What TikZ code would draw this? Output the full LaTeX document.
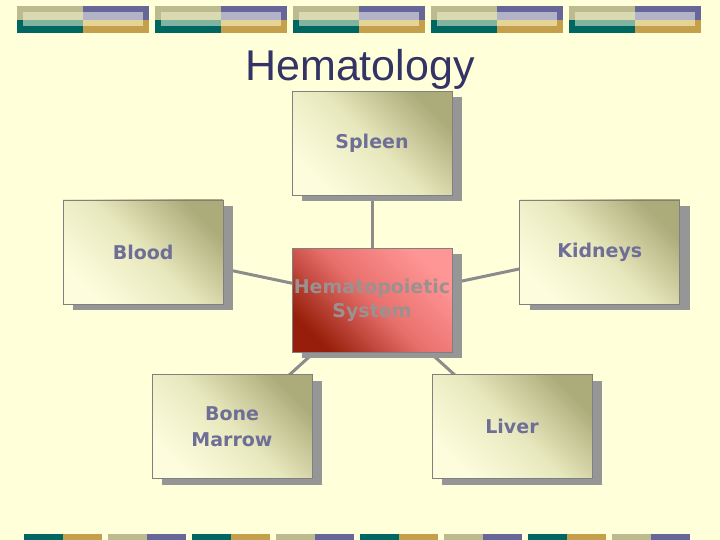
\documentclass[tikz,border=0pt]{standalone}
\usepackage{fontspec}
\usetikzlibrary{positioning,shadows,backgrounds}
\newfontfamily\titlefont{Liberation Sans}
\newfontfamily\labelfont{DejaVu Sans}
\definecolor{PageYellow}  {RGB}{255,255,217}
\definecolor{TitleNavy}   {RGB}{ 51, 51,102}
\definecolor{LabelPurple} {RGB}{110,110,150}
\definecolor{HubText}     {RGB}{155,145,145}
\definecolor{BoxLight}    {RGB}{253,253,222}
\definecolor{BoxMid}      {RGB}{232,232,190}
\definecolor{BoxDark}     {RGB}{172,172,122}
\definecolor{HubLight}    {RGB}{255,150,150}
\definecolor{HubMid}      {RGB}{232,112,108}
\definecolor{HubDark}     {RGB}{150, 30, 10}
\definecolor{BoxEdge}     {RGB}{128,128,128}
\definecolor{ShadowGray}  {RGB}{150,150,150}
\definecolor{LinkGray}    {RGB}{140,140,140}
\definecolor{BarTeal}     {RGB}{  0,102, 98}
\definecolor{BarGold}     {RGB}{196,160, 76}
\definecolor{BarKhaki}    {RGB}{187,187,143}
\definecolor{BarPurple}   {RGB}{102,102,153}
\definecolor{BarTealL}    {RGB}{128,180,160}
\definecolor{BarGoldL}    {RGB}{228,212,150}
\definecolor{BarKhakiL}   {RGB}{218,218,178}
\definecolor{BarPurpleL}  {RGB}{178,178,200}
\tikzset{
  %% 器官方框：浅黄渐变
  lbox/.style={rectangle,draw=BoxEdge,line width=0.8pt,
               top color=BoxDark,bottom color=BoxLight,middle color=BoxMid,
               shading angle=-45,
               minimum width=160pt,minimum height=104pt,inner sep=0pt,
               drop shadow={shadow xshift=10pt,shadow yshift=-6pt,
                            fill=ShadowGray,opacity=1},
               font=\labelfont\bfseries\fontsize{19}{26}\selectfont,
               text=LabelPurple,align=center},
  %% 中心方框：红色渐变
  hbox/.style={rectangle,draw=BoxEdge,line width=0.8pt,
               top color=HubLight,bottom color=HubDark,middle color=HubMid,
               shading angle=-45,
               minimum width=160pt,minimum height=104pt,inner sep=0pt,
               drop shadow={shadow xshift=10pt,shadow yshift=-6pt,
                            fill=ShadowGray,opacity=1},
               font=\labelfont\bfseries\fontsize{19}{24}\selectfont,
               text=HubText,align=center},
  %% 连线
  link/.style={line width=3pt,color=LinkGray},
}
\begin{document}
\begin{tikzpicture}[x=1pt,y=-1pt]
  \useasboundingbox (0,0) rectangle (720,540);
  \begin{scope}[on background layer]
    \fill[PageYellow] (0,0) rectangle (720,540);
    % top strip
    \foreach \i in {0,...,4}{
      \fill[BarKhaki]   ({17+138*\i},6)  rectangle ++(66,14);
      \fill[BarTeal]    ({17+138*\i},20) rectangle ++(66,13);
      \fill[BarPurple]  ({83+138*\i},6)  rectangle ++(66,14);
      \fill[BarGold]    ({83+138*\i},20) rectangle ++(66,13);
      \fill[BarKhakiL]  ({23+138*\i},12) rectangle ++(60,8);
      \fill[BarTealL]   ({23+138*\i},20) rectangle ++(60,6);
      \fill[BarPurpleL] ({83+138*\i},12) rectangle ++(60,8);
      \fill[BarGoldL]   ({83+138*\i},20) rectangle ++(60,6);
    }
    % bottom strip
    \foreach \j in {0,2,4,6}{
      \fill[BarTeal]   ({24+84*\j},534)   rectangle ++(39,6);
      \fill[BarGold]   ({63+84*\j},534)   rectangle ++(39,6);
      \fill[BarKhaki]  ({108+84*\j},534)  rectangle ++(39,6);
      \fill[BarPurple] ({147+84*\j},534)  rectangle ++(39,6);
    }
  \end{scope}

  \node[font=\titlefont\fontsize{43}{48}\selectfont,text=TitleNavy,
        anchor=base] (title) at (360,81) {Hematology};

  \node[hbox] (hemato) at (372,300) {Hematopoietic\\System};
  \node[lbox,above=52pt of hemato] (spleen) {Spleen};
  \node[lbox,left=68pt of hemato,yshift=48pt] (blood) {Blood};
  \node[lbox,right=67pt of hemato,yshift=48pt] (kidneys) {Kidneys};
  \node[lbox,below=22pt of hemato,xshift=-140pt] (marrow) {Bone\\Marrow};
  \node[lbox,below=22pt of hemato,xshift=140pt] (liver) {Liver};

  \begin{scope}[on background layer]
    \foreach \n in {spleen,blood,kidneys,marrow,liver}
      \draw[link] (hemato.center) -- (\n.center);
  \end{scope}
\end{tikzpicture}
\end{document}
